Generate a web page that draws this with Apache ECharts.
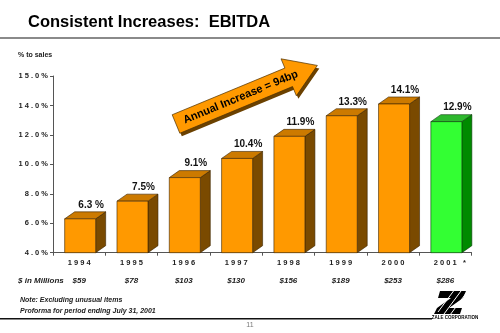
<!DOCTYPE html>
<html>
<head>
<meta charset="utf-8">
<script src="https://cdn.jsdelivr.net/npm/echarts@6/dist/echarts.min.js"></script>
<style>
html,body{margin:0;padding:0;background:#fff;}
#chart{width:500px;height:333px;}
</style>
</head>
<body>
<div id="chart"></div>
<script>
var years = ['1994', '1995', '1996', '1997', '1998', '1999', '2000', '2001 *'];
var ebitdaPct = [6.3, 7.5, 9.1, 10.4, 11.9, 13.3, 14.1, 12.9];
var valueLabels = ['6.3 %', '7.5%', '9.1%', '10.4%', '11.9%', '13.3%', '14.1%', '12.9%'];
var dollars = ['$59', '$78', '$103', '$130', '$156', '$189', '$253', '$286'];
var yTickLabels = ['4.0%', '6.0%', '8.0%', '10.0%', '12.0%', '14.0%', '15.0%'];
var yMin = 4, yMax = 16, yStep = 2;

var FONT = '"Liberation Sans", Arial, sans-serif';
var NARROW = '"Liberation Sans Narrow", "Liberation Sans", Arial, sans-serif';

function spaced(s) { return s.split('').join(' '); }

// arrow geometry (decoration)
function arrowPoints(sx, sy, angDeg, shaftLen, headLen, shaftW, headW) {
  var a = angDeg * Math.PI / 180;
  var ux = Math.cos(a), uy = -Math.sin(a);
  var px = Math.sin(a), py = Math.cos(a);
  function P(t, n) { return [sx + ux * t + px * n, sy + uy * t + py * n]; }
  return [P(0, -shaftW / 2), P(shaftLen, -shaftW / 2), P(shaftLen, -headW / 2),
          P(shaftLen + headLen, 0), P(shaftLen, headW / 2), P(shaftLen, shaftW / 2), P(0, shaftW / 2)];
}
var arrowStart = [176, 124], arrowAng = 22.5;
var arr = arrowPoints(arrowStart[0], arrowStart[1], arrowAng, 122, 31, 20, 40);
var arrShadow = arr.map(function (p) { return [p[0] + 2, p[1] + 3]; });
var aRad = arrowAng * Math.PI / 180;
var textT = 70;
var arrowTextPos = [arrowStart[0] + Math.cos(aRad) * textT, arrowStart[1] - Math.sin(aRad) * textT];

var chart = echarts.init(document.getElementById('chart'), null, { renderer: 'canvas' });

var option = {
  backgroundColor: '#ffffff',
  animation: false,
  grid: { left: 53, right: 28.5, top: 76, bottom: 80.3 },
  xAxis: [{
    type: 'category',
    data: years,
    position: 'bottom',
    axisLine: { show: true, lineStyle: { color: '#555', width: 1 } },
    axisTick: { show: true, inside: false, length: 3, interval: 0, lineStyle: { color: '#555' } },
    axisLabel: {
      interval: 0,
      margin: 6,
      fontFamily: FONT, fontWeight: 'bold', fontSize: 7.5, color: '#222',
      formatter: function (v) {
        if (v.indexOf('*') >= 0) {
          return '{sp| }' + spaced(v.replace(' *', '')) + '   *';
        }
        return spaced(v);
      },
      rich: { sp: { width: 9 } }
    }
  }, {
    type: 'category',
    data: dollars,
    position: 'bottom',
    offset: 18,
    axisLine: { show: false },
    axisTick: { show: false },
    axisLabel: {
      interval: 0,
      margin: 6,
      fontFamily: NARROW, fontWeight: 'bold', fontStyle: 'italic', fontSize: 8, color: '#222'
    }
  }],
  yAxis: {
    type: 'value',
    min: yMin, max: yMax, interval: yStep,
    splitLine: { show: false },
    axisLine: { show: true, lineStyle: { color: '#555', width: 1 } },
    axisTick: { show: true, length: 3, lineStyle: { color: '#555' } },
    axisLabel: {
      margin: 5,
      fontFamily: FONT, fontWeight: 'bold', fontSize: 7.5, color: '#222',
      formatter: function (v) {
        var idx = Math.round((v - yMin) / yStep);
        return spaced(yTickLabels[idx] || '');
      }
    }
  },
  series: [{
    type: 'custom',
    xAxisIndex: 0,
    data: ebitdaPct.map(function (v, i) { return [i, v]; }),
    encode: { x: 0, y: 1 },
    renderItem: function (params, api) {
      var i = api.value(0), v = api.value(1);
      var top = api.coord([i, v]);
      var base = api.coord([i, yMin]);
      var w = 31, dx = 10, dy = 7;
      var x0 = top[0] - w / 2 + 1, x1 = x0 + w;
      var yt = top[1], yb = base[1];
      var green = i === ebitdaPct.length - 1;
      var cFront = green ? '#33FF33' : '#FF9900';
      var cTop = green ? '#2EB82E' : '#CC7A00';
      var cSide = green ? '#008A00' : '#7A4A00';
      var stroke = green ? '#0a3a0a' : '#3a2400';
      return {
        type: 'group',
        children: [
          { type: 'polygon', shape: { points: [[x1, yt], [x1 + dx, yt - dy], [x1 + dx, yb - dy], [x1, yb]] },
            style: { fill: cSide, stroke: stroke, lineWidth: 0.6 } },
          { type: 'polygon', shape: { points: [[x0, yt], [x0 + dx, yt - dy], [x1 + dx, yt - dy], [x1, yt]] },
            style: { fill: cTop, stroke: stroke, lineWidth: 0.6 } },
          { type: 'rect', shape: { x: x0, y: yt, width: w, height: yb - yt },
            style: { fill: cFront, stroke: stroke, lineWidth: 0.6 } },
          { type: 'text', x: x0 + w / 2 + 11, y: yt - 14,
            style: { text: valueLabels[i], fontFamily: FONT, fontWeight: 'bold', fontSize: 10,
              fill: '#111', align: 'center', verticalAlign: 'middle' } }
        ]
      };
    }
  }],
  graphic: [
    { type: 'text', left: 28, top: 14,
      style: { text: 'Consistent Increases:  EBITDA', fontFamily: FONT, fontWeight: 'bold', fontSize: 16.5, fill: '#000' } },
    { type: 'rect', shape: { x: 0, y: 37, width: 500, height: 2 }, style: { fill: '#8a8a8a' } },
    { type: 'text', x: 18, y: 55,
      style: { text: '% to sales', fontFamily: FONT, fontWeight: 'bold', fontSize: 7, fill: '#222', verticalAlign: 'middle' } },
    { type: 'text', x: 18, y: 281,
      style: { text: '$ in Millions', fontFamily: NARROW, fontWeight: 'bold', fontStyle: 'italic', fontSize: 8, fill: '#222', verticalAlign: 'middle' } },
    { type: 'text', x: 20, y: 300,
      style: { text: 'Note: Excluding unusual items', fontFamily: NARROW, fontWeight: 'bold', fontStyle: 'italic', fontSize: 7, fill: '#222', verticalAlign: 'middle' } },
    { type: 'text', x: 20, y: 311,
      style: { text: 'Proforma for period ending July 31, 2001', fontFamily: NARROW, fontWeight: 'bold', fontStyle: 'italic', fontSize: 7, fill: '#222', verticalAlign: 'middle' } },
    { type: 'rect', shape: { x: 0, y: 318, width: 432, height: 1.5 }, style: { fill: '#111' } },
    { type: 'text', x: 250, y: 325,
      style: { text: '11', fontFamily: FONT, fontSize: 7, fill: '#777', align: 'center', verticalAlign: 'middle' } },
    // logo
    { type: 'polygon', shape: { points: [[440, 291], [466, 291], [463, 298], [449, 308], [462, 308], [460, 314], [434, 314], [437, 308], [451, 298], [438, 298]] },
      style: { fill: '#000' } },
    { type: 'line', shape: { x1: 444, y1: 314, x2: 461, y2: 291 }, style: { stroke: '#fff', lineWidth: 1 } },
    { type: 'line', shape: { x1: 438, y1: 312, x2: 455, y2: 289 }, style: { stroke: '#fff', lineWidth: 1 } },
    { type: 'line', shape: { x1: 450, y1: 315, x2: 467, y2: 292 }, style: { stroke: '#fff', lineWidth: 1 } },
    { type: 'text', x: 455, y: 318,
      style: { text: 'ZALE CORPORATION', fontFamily: NARROW, fontWeight: 'bold', fontSize: 4.5, fill: '#000', align: 'center', verticalAlign: 'middle' } },
    // arrow
    { type: 'polygon', shape: { points: arrShadow }, style: { fill: '#6b4100' } },
    { type: 'polygon', shape: { points: arr }, style: { fill: '#FF9900', stroke: '#4a2e00', lineWidth: 0.7 } },
    { type: 'text', x: arrowTextPos[0], y: arrowTextPos[1], rotation: aRad,
      style: { text: 'Annual Increase = 94bp', fontFamily: FONT, fontWeight: 'bold', fontSize: 11, fill: '#000', align: 'center', verticalAlign: 'middle' } }
  ]
};
chart.setOption(option);
</script>
</body>
</html>
